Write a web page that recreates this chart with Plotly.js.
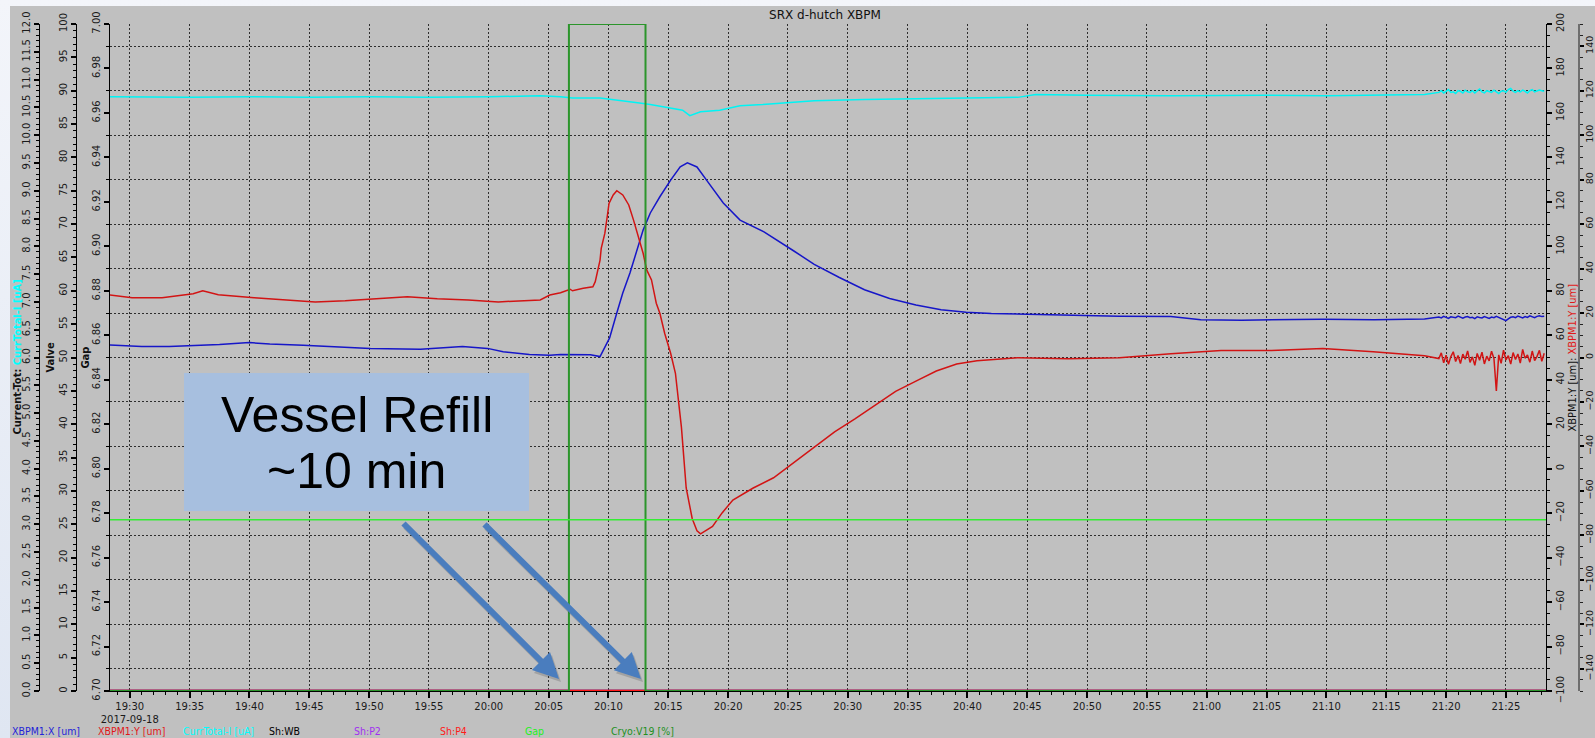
<!DOCTYPE html>
<html>
<head>
<meta charset="utf-8">
<script src="https://cdn.plot.ly/plotly-3.0.1.min.js"></script>
<style>
  html, body { margin: 0; padding: 0; width: 1595px; height: 738px; overflow: hidden; }
  body { background: linear-gradient(to bottom, #f3f5fa 0%, #dfe6f2 100%); }
  #chart { position: absolute; left: 10px; top: 6px; width: 1585px; height: 732px; }
</style>
</head>
<body>
<div id="chart"></div>
<script>
// ---- archived samples, time in minutes after 2017-09-18 19:30:00 ----

// XBPM1:X [um]
const blueT = [-1.7, 1.0, 3.3, 5.0, 7.5, 10.0, 11.7, 14.5, 17.3, 20.1, 24.3, 27.8, 29.9, 31.2, 33.4, 35.1, 36.0, 37.0, 38.5, 39.3,
  40.1, 40.7, 41.2, 41.8, 42.4, 42.9, 43.5, 44.3, 45.2, 46.0, 46.6, 47.4, 48.2, 49.6, 51.0, 53.0, 55.5, 57.2, 59.3, 61.4,
  63.5, 65.7, 67.8, 69.9, 72.0, 74.2, 78.4, 82.7, 87.0, 88.5, 89.5, 92.9, 96.0, 99.7, 104.0, 108.2];
const blueV = [55.6, 55.0, 54.9, 55.2, 55.8, 56.7, 56.1, 55.5, 54.9, 54.1, 53.7, 54.9, 54.1, 52.6, 51.3, 51.0, 51.4, 51.4, 51.2, 50.4,
  58.8, 70.0, 79.0, 88.0, 98.3, 107.3, 115.0, 122.3, 129.8, 135.8, 137.6, 135.7, 129.8, 119.5, 111.8, 106.5, 97.9, 91.9, 86.0, 80.5,
  76.5, 73.6, 71.5, 70.4, 69.8, 69.5, 69.0, 68.6, 68.4, 67.6, 67.0, 66.8, 67.0, 67.2, 67.0, 67.3];
const blueTail = [68.2, 67.8, 68.5, 68.0, 67.6, 68.3, 68.1, 67.9, 68.6, 68.0, 67.7, 68.2, 68.4, 67.9, 68.1, 67.5, 68.3, 68.0, 67.8, 68.4,
  68.1, 67.6, 68.2, 67.9, 68.5, 68.0, 67.7, 66.9, 66.6, 67.4, 68.1, 68.3, 67.9, 68.6, 68.2, 67.8, 68.4, 68.0, 68.7, 68.3,
  67.9, 68.5, 68.8, 68.4, 68.6];

// XBPM1:Y [um]
const redT = [-1.7, 0.2, 2.7, 5.3, 6.1, 7.4, 10.4, 12.9, 15.5, 18.0, 20.6, 23.2, 25.7, 28.3, 30.8, 33.4, 34.3, 35.1, 36.0, 36.8,
  37.0, 37.9, 38.7, 38.9, 39.1, 39.3, 39.4, 39.7, 39.9, 40.05, 40.4, 40.7, 41.2, 41.7, 42.1, 42.5, 42.9, 43.2, 43.6, 44.0,
  44.3, 44.7, 45.2, 45.6, 46.1, 46.5, 47.0, 47.4, 47.7, 48.7, 49.5, 50.4, 52.1, 53.8, 55.5, 57.2, 58.9, 60.6, 62.3, 64.0,
  65.7, 67.4, 69.1, 70.8, 74.2, 78.4, 82.7, 87.0, 91.2, 95.4, 99.7, 103.9, 108.2];
const redV = [28.1, 26.9, 26.9, 28.7, 30.0, 28.2, 26.9, 25.9, 25.0, 25.5, 26.4, 27.3, 26.4, 25.9, 25.0, 25.5, 25.9, 28.1, 29.1, 30.7,
  30.0, 31.1, 31.8, 34.1, 38.6, 43.8, 49.1, 55.8, 63.3, 69.3, 73.1, 75.0, 73.1, 68.6, 61.8, 54.3, 46.9, 39.4, 34.9, 24.4,
  19.9, 10.9, 1.9, -7.1, -31.3, -58.7, -72.4, -77.9, -79.3, -76.0, -69.9, -64.1, -58.7, -54.1, -47.2, -40.3, -33.5, -27.6, -21.2, -15.2,
  -10.6, -6.1, -2.9, -1.5, -0.1, -0.6, -0.1, 1.7, 3.1, 3.1, 4.0, 2.6, 0.8];
const redTail = [-0.5, 2.1, -2.4, 1.0, -3.1, 0.4, 2.6, -1.8, 0.9, -2.7, 1.5, -0.8, 3.0, -2.2, 0.3, -3.5, 1.8, -1.2, 2.4, -2.9,
  0.6, -1.5, 2.8, -0.4, -15.1, 1.2, -2.6, 3.3, -1.1, 0.8, -3.0, 2.2, -0.9, 1.6, -2.5, 3.6, -0.3, 1.1, -2.1, 2.9,
  -1.4, 0.5, 3.2, -1.7, 1.9];

// CurrTotal-I [uA]
const cyanT = [-1.7, 5.0, 10.0, 15.0, 20.0, 25.0, 30.0, 34.3, 36.0, 37.0, 39.3, 41.0, 42.6, 43.5, 45.2, 46.2, 46.8, 47.7, 49.3, 51.0,
  52.9, 55.0, 57.2, 61.4, 65.7, 69.9, 74.2, 75.7, 80.0, 87.0, 95.0, 100.0, 108.2];
const cyanV = [10.69, 10.68, 10.69, 10.68, 10.69, 10.68, 10.69, 10.71, 10.69, 10.67, 10.67, 10.63, 10.58, 10.55, 10.49, 10.45, 10.35, 10.42, 10.45, 10.53,
  10.55, 10.59, 10.62, 10.64, 10.66, 10.67, 10.68, 10.73, 10.72, 10.71, 10.72, 10.71, 10.73];
const cyanTail = [10.77, 10.80, 10.76, 10.79, 10.82, 10.77, 10.78, 10.75, 10.80, 10.79, 10.76, 10.81, 10.78, 10.77, 10.80, 10.76, 10.79, 10.83, 10.78, 10.76,
  10.80, 10.79, 10.77, 10.81, 10.78, 10.75, 10.79, 10.80, 10.77, 10.82, 10.84, 10.79, 10.77, 10.80, 10.78, 10.81, 10.79, 10.76, 10.80, 10.82,
  10.78, 10.79, 10.81, 10.80, 10.79];
// high-rate section of the archive at the end of the window
const tailStart = 109.4, tailStep = 0.2;

// Gap [mm], Cryo:V19 [%], shutters
const gapT = [-1.7, 118.4];
const gapV = [6.777, 6.777];
const cryoT = [-1.7, 36.7, 43.1, 118.4];
const cryoV = [0, 100, 0, 0];
const shutT = [-1.7, 118.4];
const shWB = [0, 0];
const shP2 = [0, 0];
const shP4 = [0, 0];

// time axis
const tickMinutes = [0, 5, 10, 15, 20, 25, 30, 35, 40, 45, 50, 55, 60, 65, 70, 75, 80, 85, 90, 95, 100, 105, 110, 115];
const tickLabels = ['19:30<br>2017-09-18', '19:35', '19:40', '19:45', '19:50', '19:55', '20:00', '20:05', '20:10', '20:15', '20:20', '20:25',
  '20:30', '20:35', '20:40', '20:45', '20:50', '20:55', '21:00', '21:05', '21:10', '21:15', '21:20', '21:25'];
const viewMinutes = [-1.65, 118.35];

// legend row
const legendNames = ['XBPM1:X [um]', 'XBPM1:Y [um]', 'CurrTotal-I [uA]', 'Sh:WB', 'Sh:P2', 'Sh:P4', 'Gap', 'Cryo:V19 [%]'];
const legendColors = ['#2323d8', '#e01818', '#00ffff', '#000000', '#a030f0', '#ff1a1a', '#22f022', '#229022'];

// ---- helpers ----
const T0 = Date.UTC(2017, 8, 18, 19, 30, 0);
function stamp(m) {
  return new Date(T0 + Math.round(m * 60000)).toISOString().slice(0, 19).replace('T', ' ');
}
function tailTimes(n) {
  const out = [];
  for (let i = 0; i < n; i++) out.push(tailStart + i * tailStep);
  return out;
}
// pixel position on the page -> paper fraction of the panel
const W = 1585, PLOT_TOP = 24, PLOT_BOTTOM = 691;
const MID = (PLOT_TOP + PLOT_BOTTOM) / 2;
const px = x => (x - 10) / W;
const py = y => (PLOT_BOTTOM - y) / (PLOT_BOTTOM - PLOT_TOP);

const FONT = 'DejaVu Sans, Verdana, sans-serif';
const NARROW = 'DejaVu Sans Condensed, Liberation Sans Narrow, DejaVu Sans, sans-serif';

function series(t, v, tail) {
  const x = t.map(stamp), y = v.slice();
  if (tail) {
    tailTimes(tail.length).forEach((m, i) => { x.push(stamp(m)); y.push(tail[i]); });
  }
  return { x, y };
}

const b = series(blueT, blueV, blueTail);
const r = series(redT, redV, redTail);
const c = series(cyanT, cyanV, cyanTail);

const traces = [
  { name: 'XBPM1:X [um]', x: b.x, y: b.y, yaxis: 'y', mode: 'lines', line: { color: '#1616c8', width: 1.5 } },
  { name: 'XBPM1:Y [um]', x: r.x, y: r.y, yaxis: 'y2', mode: 'lines', line: { color: '#d21414', width: 1.5 } },
  { name: 'CurrTotal-I [uA]', x: c.x, y: c.y, yaxis: 'y3', mode: 'lines', line: { color: '#00f4f4', width: 1.5 } },
  { name: 'Sh:WB', x: shutT.map(stamp), y: shWB, yaxis: 'y4', mode: 'lines', line: { color: '#000000', width: 2.5 } },
  { name: 'Sh:P2', x: shutT.map(stamp), y: shP2, yaxis: 'y4', mode: 'lines', line: { color: '#a030f0', width: 2.5 } },
  { name: 'Sh:P4', x: shutT.map(stamp), y: shP4, yaxis: 'y4', mode: 'lines', line: { color: '#ff1a1a', width: 2.5 } },
  { name: 'Cryo:V19 [%]', x: cryoT.map(stamp), y: cryoV, yaxis: 'y4', mode: 'lines', line: { color: '#2b952b', width: 2, shape: 'hv' } },
  { name: 'Gap', x: gapT.map(stamp), y: gapV, yaxis: 'y5', mode: 'lines', line: { color: '#33ee33', width: 1.5 } }
];

const tickFont = { family: FONT, size: 10, color: '#1a1a1a' };
function yAxisBase(extra) {
  return Object.assign({
    showline: true, linecolor: '#000', linewidth: 1,
    ticks: 'outside', ticklen: 5, tickwidth: 2, tickcolor: '#000',
    tickangle: -90, tickfont: tickFont,
    showgrid: false, zeroline: false, automargin: false, fixedrange: true
  }, extra);
}

const layout = {
  width: W, height: 732,
  margin: { l: 0, r: 0, t: 18, b: 47, pad: 0 },
  paper_bgcolor: '#c0c0c0', plot_bgcolor: '#c0c0c0',
  showlegend: false,
  font: { family: FONT, size: 10, color: '#111' },
  title: {
    text: 'SRX d-hutch XBPM', font: { family: FONT, size: 12, color: '#111' },
    xref: 'container', yref: 'container', x: px(825), xanchor: 'center', y: 1 - 9 / 732, yanchor: 'middle'
  },
  xaxis: {
    type: 'date', domain: [px(110), px(1546)], anchor: 'y',
    range: viewMinutes.map(stamp),
    tickmode: 'array', tickvals: tickMinutes.map(stamp), ticktext: tickLabels,
    tickfont: tickFont, ticks: 'outside', ticklen: 6, tickwidth: 2, tickcolor: '#000',
    minor: { tickmode: 'linear', tick0: stamp(0), dtick: 60000, ticks: 'outside', ticklen: 3, tickwidth: 1, tickcolor: '#000', showgrid: false },
    showline: true, linecolor: '#000', linewidth: 1,
    showgrid: true, gridcolor: '#2e2e2e', gridwidth: 1, griddash: '2px,2px',
    zeroline: false, automargin: false, fixedrange: true
  },
  // XBPM1:X
  yaxis: yAxisBase({
    side: 'right', anchor: 'x', range: [-100, 200], tickmode: 'linear', tick0: 0, dtick: 20,
    minor: { dtick: 5, ticks: 'outside', ticklen: 3, tickwidth: 1, tickcolor: '#000' }
  }),
  // XBPM1:Y
  yaxis2: yAxisBase({
    overlaying: 'y', side: 'right', anchor: 'free', position: px(1579),
    range: [-150, 150], tickmode: 'linear', tick0: 0, dtick: 20,
    linecolor: '#6e6e6e', linewidth: 2, ticklen: 4, ticklabelstandoff: -2,
    tickfont: { family: FONT, size: 9.5, color: '#1a1a1a' },
    minor: { dtick: 5, ticks: 'outside', ticklen: 3, tickwidth: 1, tickcolor: '#222' },
    showgrid: true, gridcolor: '#2e2e2e', gridwidth: 1, griddash: '2px,2px'
  }),
  // CurrTotal-I
  yaxis3: yAxisBase({
    overlaying: 'y', side: 'left', anchor: 'free', position: px(39),
    range: [0, 12], tickmode: 'linear', tick0: 0, dtick: 0.5, tickformat: '.1f',
    minor: { dtick: 0.1, ticks: 'outside', ticklen: 3, tickwidth: 1, tickcolor: '#000' }
  }),
  // Valve
  yaxis4: yAxisBase({
    overlaying: 'y', side: 'left', anchor: 'free', position: px(76),
    range: [0, 100], tickmode: 'linear', tick0: 0, dtick: 5,
    minor: { dtick: 1, ticks: 'outside', ticklen: 3, tickwidth: 1, tickcolor: '#000' }
  }),
  // Gap
  yaxis5: yAxisBase({
    overlaying: 'y', side: 'left', anchor: 'x',
    range: [6.70, 7.00], tickmode: 'linear', tick0: 6.70, dtick: 0.02, tickformat: '.2f',
    minor: { dtick: 0.01, ticks: 'outside', ticklen: 3, tickwidth: 1, tickcolor: '#000' }
  }),
  shapes: [
    // callout box
    { type: 'rect', xref: 'paper', yref: 'paper', x0: px(184), x1: px(529), y0: py(511), y1: py(373),
      fillcolor: '#a7bfdf', line: { width: 0 }, layer: 'above' }
  ],
  annotations: []
};

const ann = layout.annotations;
function sideTitle(xPix, text, font) {
  ann.push({ xref: 'paper', yref: 'paper', x: px(xPix), y: py(MID), xanchor: 'center', yanchor: 'middle',
    textangle: -90, showarrow: false, text, font });
}
// axis titles
sideTitle(17, '<b>Current-Tot: <span style="color:#00ffff">CurrTotal-I [uA]</span></b>', { family: NARROW, size: 11, color: '#111' });
sideTitle(50, '<b>Valve</b>', { family: NARROW, size: 11, color: '#111' });
sideTitle(85, '<b>Gap</b>', { family: NARROW, size: 11, color: '#111' });
sideTitle(1572, 'XBPM1:Y [um]: <span style="color:#e01818">XBPM1:Y [um]</span>', { family: NARROW, size: 11, color: '#111' });

// legend row
legendNames.forEach((name, i) => {
  ann.push({ xref: 'paper', yref: 'paper', x: px(10 + 85.5 * i), y: py(731), xanchor: 'left', yanchor: 'middle',
    showarrow: false, text: name, font: { family: NARROW, size: 10.5, color: legendColors[i] } });
});

// callout text
const calloutFont = { family: 'Liberation Sans, Arial, sans-serif', size: 50, color: '#000' };
ann.push({ xref: 'paper', yref: 'paper', x: px(356.5), y: py(415), xanchor: 'center', yanchor: 'middle', showarrow: false,
  text: 'Vessel Refill', font: calloutFont });
ann.push({ xref: 'paper', yref: 'paper', x: px(356.5), y: py(471), xanchor: 'center', yanchor: 'middle', showarrow: false,
  text: '~10 min', font: calloutFont });

// callout arrows pointing at the refill start and end
[[559, 679, -157, -157], [641, 679, -158, -156]].forEach(([tx, ty, dx, dy]) => {
  ann.push({ xref: 'paper', yref: 'paper', x: px(tx + 2), y: py(ty + 3), ax: dx, ay: dy, text: '',
    showarrow: true, arrowhead: 2, arrowsize: 0.85, arrowwidth: 6, arrowcolor: 'rgba(60,60,60,0.22)', standoff: 0 });
  ann.push({ xref: 'paper', yref: 'paper', x: px(tx), y: py(ty), ax: dx, ay: dy, text: '',
    showarrow: true, arrowhead: 2, arrowsize: 0.85, arrowwidth: 6, arrowcolor: '#4a7dbe', standoff: 0 });
});

Plotly.newPlot('chart', traces, layout, { displayModeBar: false, staticPlot: true });
</script>
</body>
</html>
